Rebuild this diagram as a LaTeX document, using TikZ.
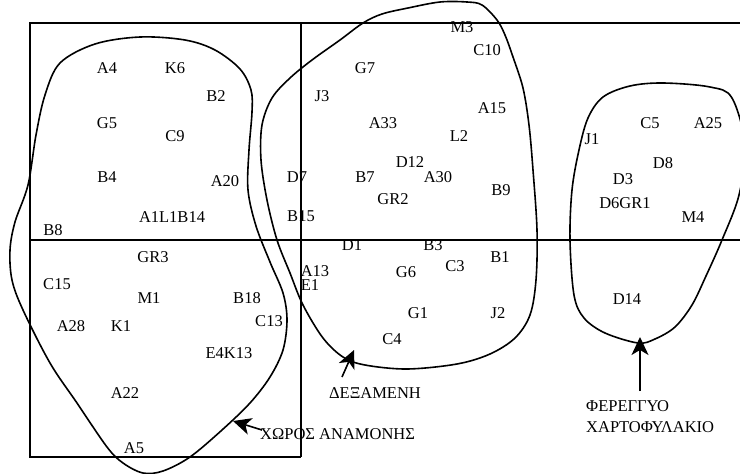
\documentclass[tikz,border=0pt]{standalone}
\usepackage{fontspec}
\setmainfont{Liberation Serif}
\usetikzlibrary{arrows.meta}
\begin{document}
\begin{tikzpicture}[x=1pt,y=-1pt,
  frame/.style={line width=1.6pt},
  blob/.style={line width=1.6pt},
  tag/.style={font=\fontsize{16.5}{18}\selectfont, inner sep=0pt},
  pointer/.style={line width=1.6pt, -{Stealth[length=18pt,width=17pt,inset=5pt]}}]
\useasboundingbox (0,0) rectangle (740,474);
\begin{scope}
\clip (0,0) rectangle (740,474);
% frame lines
\coordinate (tl) at (30,23);
\coordinate (tr) at (740,23);
\coordinate (bl) at (30,457);
\coordinate (bm) at (301,457);
\coordinate (tm) at (301,23);
\coordinate (ml) at (30,240);
\coordinate (mr) at (740,240);
\draw[frame] (tr) -- (tl) -- (bl) -- (bm);
\draw[frame] (tm) -- (bm);
\draw[frame] (ml) -- (mr);
% blobs
\draw[blob] plot[smooth cycle, tension=0.55] coordinates {
 (140,37) (185,40) (215,50) (240,69) (251,90) (252,112) (249,150) (248,190) (256,226)
 (270,262) (283,293) (287,320) (283,350) (270,377) (250,403) (222,430) (190,457) (163,471) (143,473)
 (123,463) (107,447) (77,403) (50,363) (23,310) (12,280) (10,250) (15,222) (28,185) (36,135)
 (45,95) (60,63) (95,44)};
\draw[blob] plot[smooth cycle, tension=0.55] coordinates {
 (440,2) (467,2) (482,5) (497,20) (505,35) (513,57) (523,88) (529,125) (533,170) (537,230)
 (536,280) (530,315) (515,338) (490,354) (457,364) (407,369) (365,365) (343,357) (323,338) (303,305)
 (290,273) (277,240) (267,200) (261,160) (262,125) (272,98) (290,78) (312,60) (340,40)
 (363,23) (382,14) (408,8)};
\draw[blob] plot[smooth cycle, tension=0.55] coordinates {
 (663,83) (710,87) (732,98) (745,145) (739,195) (722,240) (706,276) (692,305) (675,327)
 (655,339) (638,343) (605,333) (584,318) (574,295) (570,240) (572,190) (579,150) (588,118) (603,97)
 (630,86)};
\end{scope}
% labels
\node[tag] (a4) at (107,68) {A4};
\node[tag] (k6) at (175,68) {K6};
\node[tag] (b2) at (216,96) {B2};
\node[tag] (g5) at (107,123) {G5};
\node[tag] (c9) at (175,136) {C9};
\node[tag] (b4) at (107,177) {B4};
\node[tag] (a20) at (225,181) {A20};
\node[tag] (a1l1b14) at (172,217) {A1L1B14};
\node[tag] (b8) at (53,230) {B8};
\node[tag] (d7) at (297,177) {D7};
\node[tag] (b15) at (301,216) {B15};
\node[tag] (m3) at (462,27) {M3};
\node[tag] (c10) at (487,50) {C10};
\node[tag] (g7) at (365,68) {G7};
\node[tag] (j3) at (322,96) {J3};
\node[tag] (a15) at (492,108) {A15};
\node[tag] (a33) at (383,123) {A33};
\node[tag] (l2) at (459,136) {L2};
\node[tag] (d12) at (410,162) {D12};
\node[tag] (b7) at (365,177) {B7};
\node[tag] (a30) at (438,177) {A30};
\node[tag] (b9) at (501,190) {B9};
\node[tag] (gr2) at (393,199) {GR2};
\node[tag] (c5) at (650,123) {C5};
\node[tag] (a25) at (708,123) {A25};
\node[tag] (j1) at (592,139) {J1};
\node[tag] (d8) at (663,163) {D8};
\node[tag] (d3) at (623,179) {D3};
\node[tag] (d6gr1) at (625,203) {D6GR1};
\node[tag] (m4) at (693,217) {M4};
\node[tag] (gr3) at (153,257) {GR3};
\node[tag] (c15) at (57,284) {C15};
\node[tag] (m1) at (149,298) {M1};
\node[tag] (b18) at (247,298) {B18};
\node[tag] (a28) at (71,326) {A28};
\node[tag] (k1) at (121,326) {K1};
\node[tag] (c13) at (269,321) {C13};
\node[tag] (e4k13) at (229,353) {E4K13};
\node[tag] (a22) at (125,393) {A22};
\node[tag] (a5) at (134,448) {A5};
\node[tag] (d1) at (352,245) {D1};
\node[tag] (b3) at (433,245) {B3};
\node[tag] (b1) at (500,257) {B1};
\node[tag] (a13) at (315,271) {A13};
\node[tag] (e1) at (310,285) {E1};
\node[tag] (g6) at (406,272) {G6};
\node[tag] (c3) at (455,266) {C3};
\node[tag] (g1) at (418,313) {G1};
\node[tag] (j2) at (498,313) {J2};
\node[tag] (c4) at (392,339) {C4};
\node[tag] (d14) at (627,299) {D14};
% captions
\node[tag, anchor=west] (waitlbl) at (260,434) {ΧΩΡΟΣ ΑΝΑΜΟΝΗΣ};
\node[tag] (tanklbl) at (375,393) {ΔΕΞΑΜΕΝΗ};
\node[tag, anchor=west] (solv1) at (586,406) {ΦΕΡΕΓΓΥΟ};
\node[tag, anchor=west] (solv2) at (586,427) {ΧΑΡΤΟΦΥΛΑΚΙΟ};
% arrows
\coordinate (waitTail) at (262,430);
\coordinate (waitTip) at (233,421);
\coordinate (tankTail) at (342,377);
\coordinate (tankTip) at (354,350);
\coordinate (solvTail) at (640,391);
\coordinate (solvTip) at (640,337);
\draw[pointer] (waitTail) -- (waitTip);
\draw[pointer] (tankTail) -- (tankTip);
\draw[pointer] (solvTail) -- (solvTip);
\end{tikzpicture}
\end{document}
